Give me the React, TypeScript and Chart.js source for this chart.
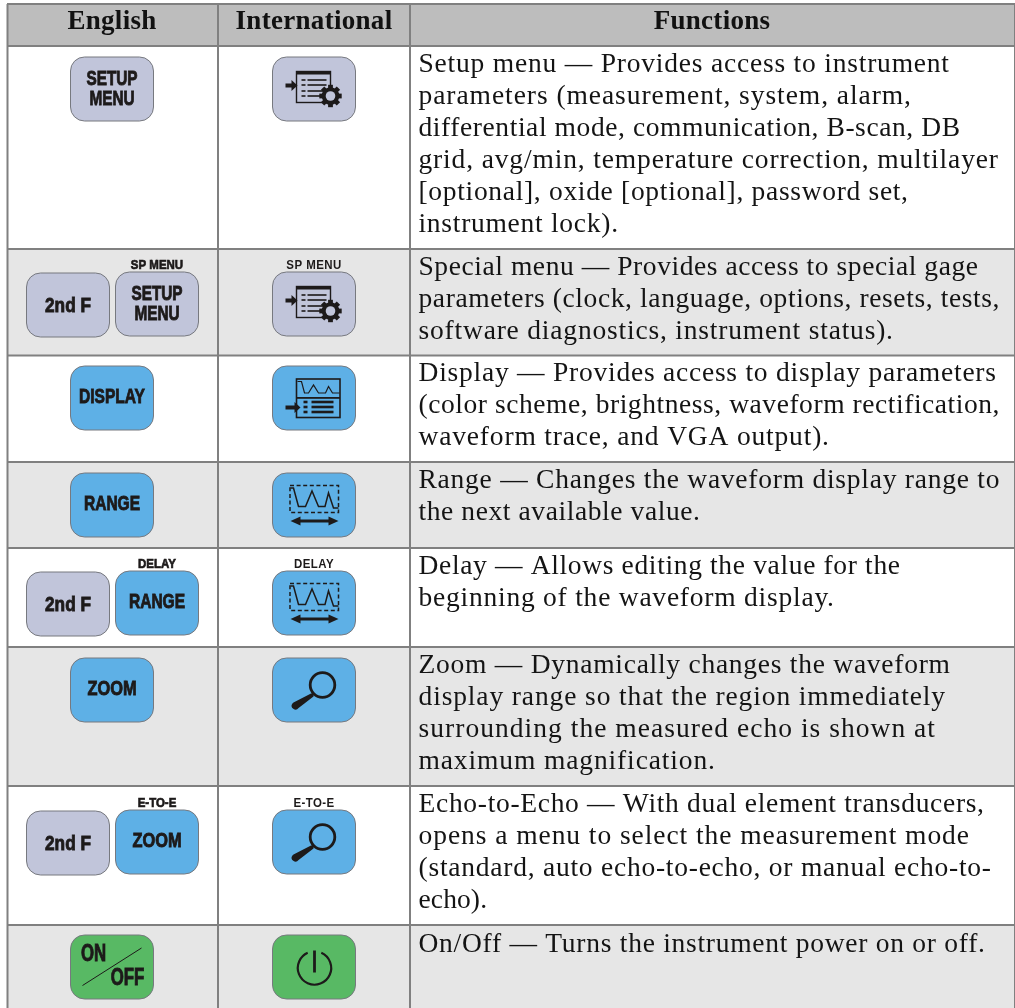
import React, { useEffect, useRef } from "react";
import { Chart, registerables } from "chart.js";

Chart.register(...registerables);

const headers = ["English", "International", "Functions"];
const headerCentres = [112, 314, 712];
const columnRules = [7.5, 218, 410, 1014.5];
const rowEdges = [4, 46, 249, 355.5, 462, 548, 647, 786, 925, 1009];
const rowFills = ["#bdbdbd", "#ffffff", "#e6e6e6", "#ffffff", "#e6e6e6", "#ffffff", "#e6e6e6", "#ffffff", "#e6e6e6"];

const functionLines = [
  ["Setup menu — Provides access to instrument", "parameters (measurement, system, alarm,", "differential mode, communication, B-scan, DB", "grid, avg/min, temperature correction, multilayer", "[optional], oxide [optional], password set,", "instrument lock)."],
  ["Special menu — Provides access to special gage", "parameters (clock, language, options, resets, tests,", "software diagnostics, instrument status)."],
  ["Display — Provides access to display parameters", "(color scheme, brightness, waveform rectification,", "waveform trace, and VGA output)."],
  ["Range — Changes the waveform display range to", "the next available value."],
  ["Delay — Allows editing the value for the", "beginning of the waveform display."],
  ["Zoom — Dynamically changes the waveform", "display range so that the region immediately", "surrounding the measured echo is shown at", "maximum magnification."],
  ["Echo-to-Echo — With dual element transducers,", "opens a menu to select the measurement mode", "(standard, auto echo-to-echo, or manual echo-to-", "echo)."],
  ["On/Off — Turns the instrument power on or off."],
];
const lineEnds = [
  [949, 911, 960, 998, 908, 618],
  [978, 999.5, 893],
  [996, 999.5, 829],
  [999.5, 700],
  [900, 834],
  [950, 945, 935, 715],
  [984, 969, 991, 487],
  [985],
];
const firstBaselines = [72, 275, 381, 488, 574, 673, 812, 952];

const GREY = "#c1c5da";
const BLUE = "#5eb0e6";
const GREEN = "#58b964";

type Key = { x: number; y: number; fill: string; text?: string[]; icon?: string; over?: string; overBold?: boolean };
const keys: Key[] = [
  { x: 70.5, y: 57, fill: GREY, text: ["SETUP", "MENU"] },
  { x: 272.5, y: 57, fill: GREY, icon: "setup" },
  { x: 26.5, y: 273, fill: GREY, text: ["2nd F"] },
  { x: 115.5, y: 272, fill: GREY, text: ["SETUP", "MENU"], over: "SP MENU", overBold: true },
  { x: 272.5, y: 272, fill: GREY, icon: "setup", over: "SP MENU" },
  { x: 70.5, y: 366, fill: BLUE, text: ["DISPLAY"] },
  { x: 272.5, y: 366, fill: BLUE, icon: "display" },
  { x: 70.5, y: 473, fill: BLUE, text: ["RANGE"] },
  { x: 272.5, y: 473, fill: BLUE, icon: "range" },
  { x: 26.5, y: 572, fill: GREY, text: ["2nd F"] },
  { x: 115.5, y: 571, fill: BLUE, text: ["RANGE"], over: "DELAY", overBold: true },
  { x: 272.5, y: 571, fill: BLUE, icon: "range", over: "DELAY" },
  { x: 70.5, y: 658, fill: BLUE, text: ["ZOOM"] },
  { x: 272.5, y: 658, fill: BLUE, icon: "zoom" },
  { x: 26.5, y: 811, fill: GREY, text: ["2nd F"] },
  { x: 115.5, y: 810, fill: BLUE, text: ["ZOOM"], over: "E-TO-E", overBold: true },
  { x: 272.5, y: 810, fill: BLUE, icon: "zoom", over: "E-TO-E" },
  { x: 70.5, y: 935, fill: GREEN, icon: "onoff" },
  { x: 272.5, y: 935, fill: GREEN, icon: "power" },
];

const INK = "#1d1a1a";
const SANS = '"Liberation Sans", Arial, sans-serif';

function keyText(ctx: CanvasRenderingContext2D, s: string, x: number, y: number, size: number, stroke = 0.9, squeeze = 0.73, spacing = 0) {
  ctx.save();
  ctx.translate(x, y);
  ctx.scale(squeeze, 1);
  ctx.font = `bold ${size}px ${SANS}`;
  ctx.letterSpacing = `${spacing}px`;
  ctx.textAlign = "center";
  ctx.textBaseline = "middle";
  ctx.fillStyle = INK;
  ctx.fillText(s, 0, 0);
  if (stroke > 0) {
    ctx.strokeStyle = INK;
    ctx.lineWidth = stroke;
    ctx.strokeText(s, 0, 0);
  }
  ctx.restore();
}

function arrowRight(ctx: CanvasRenderingContext2D, x0: number, x1: number, y: number) {
  ctx.fillStyle = INK;
  ctx.fillRect(x0, y - 2, x1 - x0 - 5, 4);
  ctx.beginPath();
  ctx.moveTo(x1, y);
  ctx.lineTo(x1 - 6, y - 5.5);
  ctx.lineTo(x1 - 6, y + 5.5);
  ctx.closePath();
  ctx.fill();
}

function drawIcon(ctx: CanvasRenderingContext2D, icon: string) {
  ctx.strokeStyle = INK;
  ctx.fillStyle = INK;
  ctx.lineCap = "butt";
  ctx.lineJoin = "miter";
  ctx.setLineDash([]);
  if (icon === "setup") {
    ctx.lineWidth = 1.4;
    ctx.strokeRect(24, 14.5, 34, 31);
    ctx.fillRect(24, 14, 34, 3.5);
    for (const ly of [23, 28, 34, 39]) {
      ctx.fillRect(29, ly - 0.8, 4, 1.6);
      ctx.fillRect(35, ly - 0.8, 19, 1.6);
    }
    arrowRight(ctx, 13, 25, 28.5);
    const cx = 58, cy = 39;
    ctx.fillStyle = INK;
    for (let i = 0; i < 8; i++) {
      ctx.save();
      ctx.translate(cx, cy);
      ctx.rotate((i * Math.PI) / 4);
      ctx.fillRect(-2.4, -11.2, 4.8, 5);
      ctx.restore();
    }
    ctx.beginPath();
    ctx.arc(cx, cy, 8.8, 0, Math.PI * 2);
    ctx.fill();
    ctx.fillStyle = GREY;
    ctx.beginPath();
    ctx.arc(cx, cy, 4.8, 0, Math.PI * 2);
    ctx.fill();
  } else if (icon === "display") {
    ctx.lineWidth = 1.6;
    ctx.strokeRect(24, 13, 43.5, 38.5);
    ctx.fillRect(24, 31, 43.5, 1.8);
    ctx.lineWidth = 1.2;
    ctx.beginPath();
    ctx.moveTo(25, 15.5);
    for (const [a, b] of [[29, 15.5], [32, 27], [36, 27], [41, 19], [46, 27], [53, 27], [56, 20.5], [60, 27], [67, 27]]) ctx.lineTo(a, b);
    ctx.stroke();
    for (const ly of [36, 41, 46]) {
      ctx.fillRect(31, ly - 1.3, 4, 2.6);
      ctx.fillRect(39, ly - 1.3, 22, 2.6);
    }
    arrowRight(ctx, 13, 28, 41.5);
  } else if (icon === "range") {
    ctx.lineWidth = 1.5;
    ctx.setLineDash([4, 2.6]);
    ctx.strokeRect(17.5, 12.5, 48.5, 27);
    ctx.setLineDash([]);
    ctx.lineWidth = 1.5;
    ctx.beginPath();
    ctx.moveTo(18, 15);
    for (const [a, b] of [[21, 15], [26, 33.5], [33, 33.5], [39.5, 18], [46, 33.5], [52.5, 33.5], [56, 20], [61, 35], [66, 35]]) ctx.lineTo(a, b);
    ctx.stroke();
    ctx.fillRect(23, 46.5, 38, 3);
    for (const [tip, base] of [[18, 28], [66, 56]]) {
      ctx.beginPath();
      ctx.moveTo(tip, 48);
      ctx.lineTo(base, 43.5);
      ctx.lineTo(base, 52.5);
      ctx.closePath();
      ctx.fill();
    }
  } else if (icon === "zoom") {
    ctx.lineWidth = 2.8;
    ctx.beginPath();
    ctx.arc(50, 27, 12.3, 0, Math.PI * 2);
    ctx.stroke();
    ctx.beginPath();
    ctx.moveTo(41.5, 35);
    ctx.lineTo(38.5, 35.5);
    ctx.lineTo(21, 44.5);
    ctx.arc(23, 47.8, 3.8, Math.PI * 1.2, Math.PI * 0.2, true);
    ctx.lineTo(41, 38.5);
    ctx.closePath();
    ctx.fill();
  } else if (icon === "power") {
    ctx.lineWidth = 2.2;
    ctx.beginPath();
    ctx.arc(42, 33, 16.7, -Math.PI / 2 + 0.42, -Math.PI / 2 - 0.42);
    ctx.stroke();
    ctx.lineWidth = 2.8;
    ctx.beginPath();
    ctx.moveTo(42, 15.5);
    ctx.lineTo(42, 37.5);
    ctx.stroke();
  } else if (icon === "onoff") {
    keyText(ctx, "ON", 23, 19.5, 23);
    keyText(ctx, "OFF", 57, 44, 23);
    ctx.lineWidth = 1;
    ctx.beginPath();
    ctx.moveTo(12, 50.5);
    ctx.lineTo(71, 13);
    ctx.stroke();
  }
}

function drawKey(ctx: CanvasRenderingContext2D, k: Key, x: number, y: number) {
  ctx.save();
  ctx.translate(x, y);
  ctx.beginPath();
  ctx.roundRect(0, 0, 83, 64, 14);
  ctx.fillStyle = k.fill;
  ctx.fill();
  ctx.strokeStyle = "#77797f";
  ctx.lineWidth = 1;
  ctx.stroke();
  if (k.text) {
    if (k.text.length === 2) {
      keyText(ctx, k.text[0], 41.5, 22, 21);
      keyText(ctx, k.text[1], 41.5, 42.5, 21);
    } else if (k.text[0] === "2nd F") {
      keyText(ctx, k.text[0], 41.5, 33, 21, 0.9, 0.82);
    } else {
      keyText(ctx, k.text[0], 41.5, 31, 21, 0.9, k.text[0] === "ZOOM" ? 0.78 : 0.74);
    }
  }
  if (k.icon) drawIcon(ctx, k.icon);
  if (k.over) keyText(ctx, k.over, 41.5, -7, 13.5, k.overBold ? 0.7 : 0, 0.85, k.overBold ? 0 : 0.5);
  ctx.restore();
}

const tablePlugin = {
  id: "tableContent",
  afterDatasetsDraw(chart: any) {
    const { ctx } = chart;
    const xs = chart.scales.xp;
    const ys = chart.scales.y;
    ctx.save();
    ctx.letterSpacing = "0.3px";
    ctx.font = 'bold 27px "Liberation Serif", serif';
    ctx.fillStyle = "#111";
    ctx.textAlign = "center";
    ctx.textBaseline = "alphabetic";
    headers.forEach((h, i) => ctx.fillText(h, xs.getPixelForValue(headerCentres[i]), ys.getPixelForValue(29)));
    ctx.font = '27.5px "Liberation Serif", serif';
    ctx.textAlign = "left";
    ctx.fillStyle = "#141414";
    functionLines.forEach((lines, r) => {
      lines.forEach((line, i) => {
        ctx.letterSpacing = "0px";
        const natural = ctx.measureText(line).width;
        const spacing = (lineEnds[r][i] - 418.5 - natural) / (line.length - 1);
        ctx.letterSpacing = `${spacing}px`;
        ctx.fillText(line, xs.getPixelForValue(418.5), ys.getPixelForValue(firstBaselines[r] + i * 32));
      });
    });
    ctx.letterSpacing = "0px";
    keys.forEach((k) => drawKey(ctx, k, xs.getPixelForValue(k.x), ys.getPixelForValue(k.y)));
    ctx.restore();
  },
};

export default function App() {
  const ref = useRef<HTMLCanvasElement>(null);
  useEffect(() => {
    if (!ref.current) return;
    const ruleStyle = {
      type: "scatter" as const,
      showLine: true,
      borderColor: "#808080",
      borderWidth: 2,
      pointRadius: 0,
      xAxisID: "xp",
      yAxisID: "y",
      clip: false as const,
      order: 0,
    };
    const horizontal = rowEdges.map((e) => ({
      ...ruleStyle,
      data: [{ x: 7, y: e }, { x: 1015, y: e }],
    }));
    const vertical = columnRules.map((c) => ({
      ...ruleStyle,
      borderWidth: c > 1000 ? 1 : 2,
      data: [{ x: c, y: rowEdges[0] }, { x: c, y: rowEdges[rowEdges.length - 1] }],
    }));
    const rows = rowFills.map((fill, i) => ({
      type: "bar" as const,
      data: [[rowEdges[i], rowEdges[i + 1]]],
      backgroundColor: fill,
      grouped: false,
      barPercentage: 1,
      categoryPercentage: 1,
      xAxisID: "x",
      yAxisID: "y",
      order: 1,
    }));
    const chart = new Chart(ref.current, {
      type: "bar",
      data: { labels: ["table"], datasets: [...horizontal, ...vertical, ...rows] as any },
      options: {
        animation: false,
        responsive: false,
        layout: { padding: { left: 7, right: 0, top: 0, bottom: 0 } },
        plugins: { legend: { display: false }, tooltip: { enabled: false } },
        scales: {
          x: { type: "category", display: false },
          xp: { type: "linear", display: false, min: 7, max: 1015, offset: false },
          y: { type: "linear", display: false, reverse: true, min: 0, max: 1008 },
        },
      },
      plugins: [tablePlugin],
    } as any);
    return () => chart.destroy();
  }, []);
  return (
    <canvas
      ref={ref}
      width={1015}
      height={1008}
      style={{ position: "absolute", left: 0, top: 0, display: "block" }}
    />
  );
}
